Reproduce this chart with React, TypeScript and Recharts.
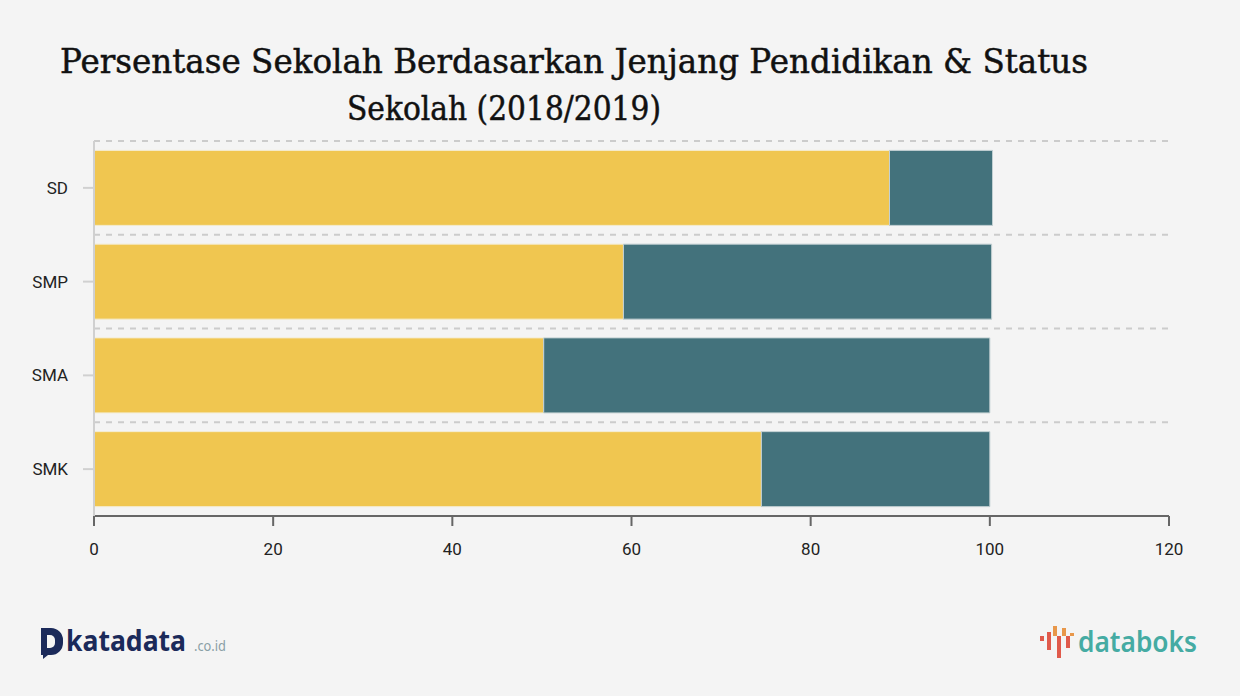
import { BarChart, Bar, XAxis, YAxis, CartesianGrid } from 'recharts'

const categories = ['SD', 'SMP', 'SMA', 'SMK']
const negeri = [88.8, 59.1, 50.2, 74.5]
const swasta = [11.5, 41.1, 49.8, 25.5]
const xTicks = [0, 20, 40, 60, 80, 100, 120]

const data = categories.map((name, i) => ({ name, negeri: negeri[i], swasta: swasta[i] }))

const W = 1240
const H = 696

function Logos() {
  return (
    <svg
      width={W}
      height={H}
      style={{ position: 'absolute', left: 0, top: 0, pointerEvents: 'none' }}
    >
      <text
        x={60}
        y={73}
        fontFamily="'DejaVu Serif', serif"
        fontSize={34}
        fill="#111"
        stroke="#111"
        strokeWidth={0.5}
        textLength={1028}
        lengthAdjust="spacingAndGlyphs"
      >
        Persentase Sekolah Berdasarkan Jenjang Pendidikan &amp; Status
      </text>
      <text
        x={347}
        y={120}
        fontFamily="'DejaVu Serif', serif"
        fontSize={34}
        fill="#111"
        stroke="#111"
        strokeWidth={0.5}
        textLength={314}
        lengthAdjust="spacingAndGlyphs"
      >
        Sekolah (2018/2019)
      </text>

      {/* katadata */}
      <path d="M41 628 h10 a12 12 0 0 1 12 12 v3 a12 12 0 0 1 -12 12 h-3 l-5 4 v-4 h-2 z" fill="#1b2a5a" />
      <path d="M47 635 h3 a5 5 0 0 1 5 5 v3 a5 5 0 0 1 -5 5 h-3 z" fill="#f4f4f4" />
      <text x={66} y={651} fontFamily="'Noto Sans', sans-serif" fontWeight={700} fontSize={29} fill="#1b2a5a" textLength={120} lengthAdjust="spacingAndGlyphs">
        katadata
      </text>
      <text x={194} y={651} fontFamily="'Noto Sans', sans-serif" fontSize={15} fill="#8a9fa6" textLength={32} lengthAdjust="spacingAndGlyphs">
        .co.id
      </text>

      {/* databoks */}
      <rect x={1040} y={636} width={4} height={5} fill="#e05a4b" />
      <rect x={1047} y={632} width={4} height={18} fill="#e05a4b" />
      <rect x={1053} y={626} width={4} height={10} fill="#e8974a" />
      <rect x={1057} y={636} width={4} height={22} fill="#e05a4b" />
      <rect x={1062} y={628} width={4} height={8} fill="#e8974a" />
      <rect x={1066} y={636} width={4} height={12} fill="#e05a4b" />
      <rect x={1070} y={633} width={4} height={3} fill="#e8974a" />
      <text x={1078} y={652} fontFamily="'Noto Sans', sans-serif" fontWeight={600} fontSize={29} fill="#45aba3" textLength={119} lengthAdjust="spacingAndGlyphs">
        databoks
      </text>
    </svg>
  )
}

export default function App() {
  return (
    <div
      style={{
        position: 'fixed',
        left: 0,
        top: 0,
        width: W,
        height: H,
        background: '#f4f4f4',
        fontFamily: 'Roboto, sans-serif',
      }}
    >
      <BarChart
        width={W}
        height={H}
        data={data}
        layout="vertical"
        margin={{ top: 141, right: 71, bottom: 150, left: 34 }}
        barCategoryGap="10%"
      >
        <CartesianGrid
          vertical={false}
          stroke="#cccccc"
          strokeWidth={2}
          strokeDasharray="6 6"
          horizontalCoordinatesGenerator={({ offset }: any) =>
            categories.map((_, i) => offset.top + (i * offset.height) / categories.length)
          }
        />
        <XAxis
          type="number"
          domain={[0, 120]}
          ticks={xTicks}
          height={30}
          tickSize={10}
          tickMargin={17}
          stroke="#666"
          strokeWidth={2}
          tick={{ fill: '#222', fontSize: 17, fontFamily: 'Roboto' }}
        />
        <YAxis
          type="category"
          dataKey="name"
          width={60}
          tickSize={11}
          tickMargin={15}
          stroke="#d0d0d0"
          strokeWidth={2}
          tick={{ fill: '#222', fontSize: 17, fontFamily: 'Roboto' }}
        />
        <Bar dataKey="negeri" stackId="a" fill="#f0c650" stroke="#f4ecd0" strokeWidth={1} isAnimationActive={false} />
        <Bar dataKey="swasta" stackId="a" fill="#43727c" stroke="#c3d0d3" strokeWidth={1} isAnimationActive={false} />
      </BarChart>
      <Logos />
    </div>
  )
}
